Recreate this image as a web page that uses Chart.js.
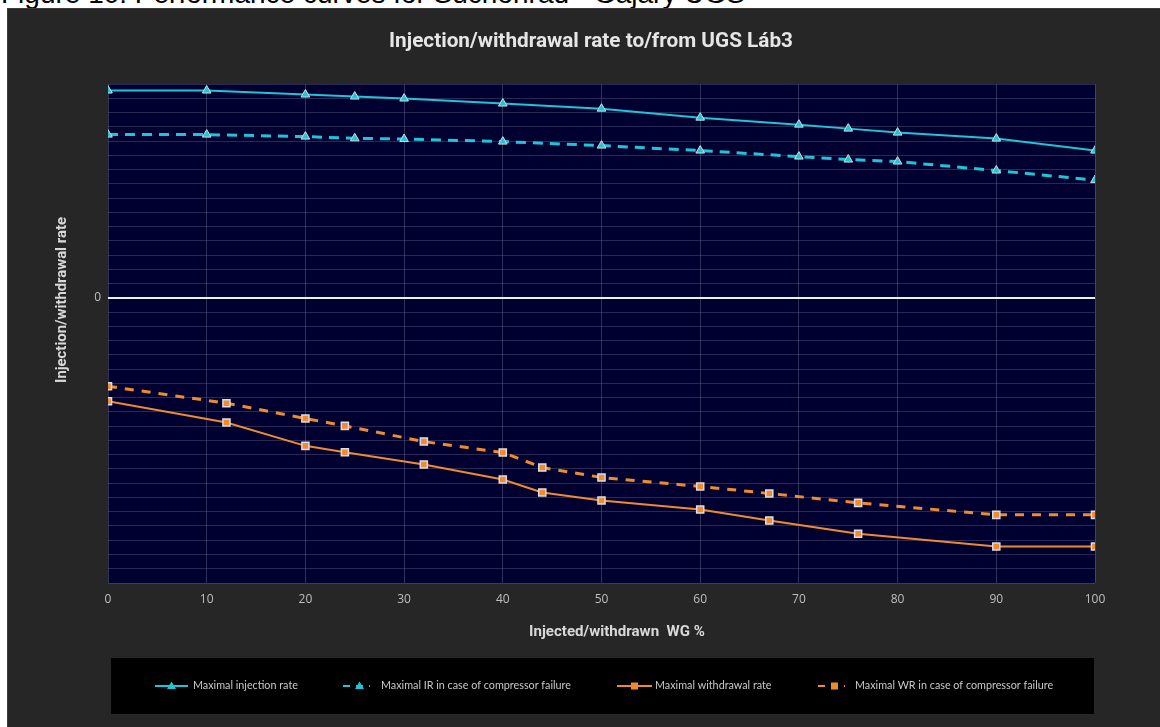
<!DOCTYPE html>
<html>
<head>
<meta charset="utf-8">
<script src="https://cdn.jsdelivr.net/npm/chart.js@4.4.1/dist/chart.umd.min.js"></script>
<style>
  html, body { margin: 0; padding: 0; background: #ffffff; width: 1160px; height: 727px; overflow: hidden; }
  #caption { position: absolute; left: 1px; top: -20px; font-family: "Liberation Sans", Arial, sans-serif; font-size: 28px; color: #000; white-space: nowrap; line-height: 28px; }
  #wrap { position: absolute; left: 7px; top: 8px; width: 1153px; height: 719px; background: #262626; border-top: 1px solid #3a3a3a; border-left: 1px solid #3a3a3a; box-sizing: border-box; }
  canvas { position: absolute; left: -1px; top: -1px; }
</style>
</head>
<body>
<div id="caption">Figure 10: Performance curves for Suchohrad - Gajary UGS</div>
<div id="wrap"><canvas id="c" width="1153" height="719"></canvas></div>
<script>
// ---- data ----
const chartTitle = "Injection/withdrawal rate to/from UGS Láb3";
const yTitle = "Injection/withdrawal rate";
const xTitle = "Injected/withdrawn  WG %";
const xTicks = [0, 10, 20, 30, 40, 50, 60, 70, 80, 90, 100];

const injX = [0, 10, 20, 25, 30, 40, 50, 60, 70, 75, 80, 90, 100];
const injMax = [14.54, 14.54, 14.26, 14.12, 13.98, 13.63, 13.27, 12.64, 12.15, 11.87, 11.59, 11.17, 10.33];
const injFail = [11.45, 11.45, 11.31, 11.19, 11.14, 10.96, 10.68, 10.33, 9.91, 9.70, 9.56, 8.93, 8.26];

const wdX = [0, 12, 20, 24, 32, 40, 44, 50, 60, 67, 76, 90, 100];
const wdMax = [-7.25, -8.74, -10.38, -10.83, -11.69, -12.74, -13.65, -14.21, -14.85, -15.62, -16.55, -17.44, -17.44];
const wdFail = [-6.20, -7.39, -8.46, -8.98, -10.08, -10.85, -11.90, -12.60, -13.23, -13.72, -14.38, -15.22, -15.22];

const labels = [
  "Maximal injection rate",
  "Maximal IR in case of compressor failure",
  "Maximal withdrawal rate",
  "Maximal WR in case of compressor failure"
];

const CYAN = "#1cc6d6";
const ORANGE = "#f08a30";
const toXY = (xs, ys) => xs.map((x, i) => ({ x: x, y: ys[i] }));

function fitFont(ctx, text, weight, family, targetWidth, baseSize) {
  ctx.font = weight + " " + baseSize + "px " + family;
  const w = ctx.measureText(text).width;
  const size = baseSize * targetWidth / w;
  return weight + " " + size.toFixed(2) + "px " + family;
}

const decor = {
  id: "decor",
  beforeDraw(chart) {
    const { ctx, chartArea: a } = chart;
    ctx.save();
    ctx.fillStyle = "#000030";
    ctx.fillRect(a.left, a.top, a.right - a.left, a.bottom - a.top);
    ctx.restore();
  },
  afterDraw(chart) {
    const ctx = chart.ctx;
    const fam = "Roboto, 'DejaVu Sans Condensed', sans-serif";
    ctx.save();
    ctx.fillStyle = "#e6e6e6";
    ctx.textAlign = "center";
    ctx.textBaseline = "middle";
    // main title
    ctx.font = fitFont(ctx, chartTitle, "bold", fam, 404, 17);
    ctx.fillText(chartTitle, 584, 34);
    // x title
    ctx.fillStyle = "#d9d9d9";
    ctx.font = fitFont(ctx, xTitle, "bold", fam, 176, 13);
    ctx.fillText(xTitle, 610, 624);
    // y title
    ctx.save();
    ctx.translate(55, 292);
    ctx.rotate(-Math.PI / 2);
    ctx.font = fitFont(ctx, yTitle, "bold", fam, 166, 12);
    ctx.fillText(yTitle, 0, 0);
    ctx.restore();

    // legend box
    ctx.fillStyle = "#000000";
    ctx.fillRect(104, 650, 983, 56);
    const items = [
      { x1: 148, x2: 181, tx: 186 },
      { x1: 336, x2: 363, tx: 374 },
      { x1: 610, x2: 645, tx: 648 },
      { x1: 811, x2: 838, tx: 848 }
    ];
    const ly = 678;
    const lfam = "Lato, 'Open Sans', sans-serif";
    const legendFont = fitFont(ctx, labels[0], "normal", lfam, 105, 10);
    chart.data.datasets.forEach((ds, i) => {
      const it = items[i];
      ctx.save();
      ctx.strokeStyle = ds.borderColor;
      ctx.lineWidth = 2;
      if (ds.borderDash && ds.borderDash.length) ctx.setLineDash([7, 6]);
      ctx.beginPath();
      ctx.moveTo(it.x1, ly);
      ctx.lineTo(it.x2, ly);
      ctx.stroke();
      ctx.setLineDash([]);
      const cx = (it.x1 + it.x2) / 2 + (i % 2 ? 3 : 0);
      ctx.fillStyle = ds.pointBackgroundColor;
      ctx.strokeStyle = ds.pointBorderColor;
      ctx.lineWidth = 1;
      ctx.beginPath();
      if (ds.pointStyle === "triangle") {
        ctx.moveTo(cx, ly - 4.5);
        ctx.lineTo(cx + 4.5, ly + 3);
        ctx.lineTo(cx - 4.5, ly + 3);
        ctx.closePath();
      } else {
        ctx.rect(cx - 3.5, ly - 3.5, 7, 7);
      }
      ctx.fill();
      ctx.restore();
      ctx.fillStyle = "#c8c8c8";
      ctx.textAlign = "left";
      ctx.font = legendFont;
      ctx.fillText(ds.label, it.tx, ly);
    });
    ctx.restore();
  }
};

const ctx = document.getElementById("c").getContext("2d");
new Chart(ctx, {
  type: "line",
  data: {
    datasets: [
      {
        label: labels[0], data: toXY(injX, injMax),
        borderColor: CYAN, borderWidth: 2, pointStyle: "triangle", pointRadius: 5,
        pointBackgroundColor: CYAN, pointBorderColor: "#d8d8e0", pointBorderWidth: 1
      },
      {
        label: labels[1], data: toXY(injX, injFail),
        borderColor: CYAN, borderWidth: 3, borderDash: [10, 7], pointStyle: "triangle", pointRadius: 5,
        pointBackgroundColor: CYAN, pointBorderColor: "#d8d8e0", pointBorderWidth: 1
      },
      {
        label: labels[2], data: toXY(wdX, wdMax),
        borderColor: ORANGE, borderWidth: 2, pointStyle: "rect", pointRadius: 5,
        pointBackgroundColor: ORANGE, pointBorderColor: "#dcdce4", pointBorderWidth: 1.5
      },
      {
        label: labels[3], data: toXY(wdX, wdFail),
        borderColor: ORANGE, borderWidth: 3, borderDash: [9, 8], pointStyle: "rect", pointRadius: 5,
        pointBackgroundColor: ORANGE, pointBorderColor: "#dcdce4", pointBorderWidth: 1.5
      }
    ]
  },
  options: {
    responsive: false,
    animation: false,
    devicePixelRatio: 1,
    layout: { padding: { top: 76, right: 65, left: 0, bottom: 0 } },
    plugins: { legend: { display: false }, title: { display: false }, tooltip: { enabled: false } },
    elements: { line: { tension: 0 } },
    scales: {
      x: {
        type: "linear", min: 0, max: 100,
        afterFit(s) { s.height = 144; },
        afterBuildTicks(s) { s.ticks = xTicks.map(v => ({ value: v })); },
        ticks: { color: "#bfbfbf", font: { size: 12, family: "'Open Sans', Lato, sans-serif" }, padding: 9 },
        grid: { color: "rgba(90,90,130,0.55)", lineWidth: 1, drawTicks: false },
        border: { display: false }
      },
      y: {
        type: "linear", min: -20, max: 15,
        afterFit(s) { s.width = 101; },
        ticks: {
          stepSize: 1, autoSkip: false, color: "#bfbfbf", padding: 7,
          font: { size: 12, family: "'Open Sans', Lato, sans-serif" },
          callback: v => (v === 0 ? "0" : "")
        },
        grid: {
          drawTicks: false,
          color: c => (c.tick && c.tick.value === 0 ? "#f0f0f0" : "rgba(90,90,130,0.45)"),
          lineWidth: c => (c.tick && c.tick.value === 0 ? 2 : 1)
        },
        border: { display: false }
      }
    }
  },
  plugins: [decor]
});
</script>
</body>
</html>
